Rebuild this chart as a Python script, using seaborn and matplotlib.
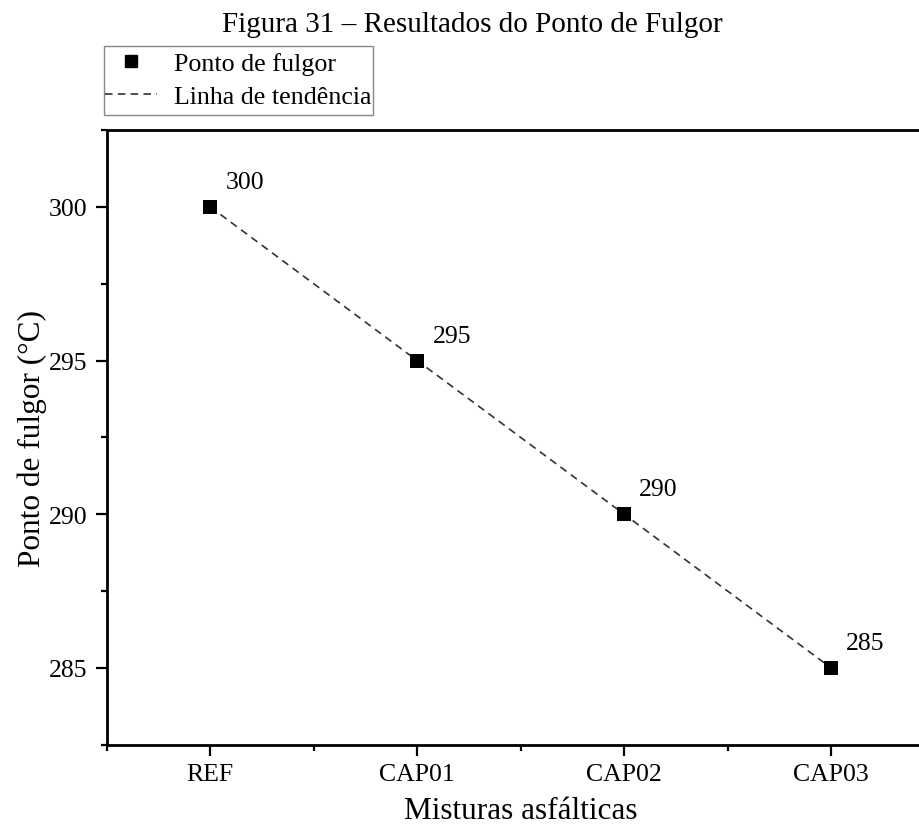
import numpy as np
import pandas as pd
import matplotlib
matplotlib.use("Agg")
import matplotlib.pyplot as plt
from matplotlib.ticker import FixedLocator, MultipleLocator
from matplotlib.lines import Line2D
from matplotlib.patches import Rectangle
import seaborn as sns

categories = ["REF", "CAP01", "CAP02", "CAP03"]
flash_point = [300, 295, 290, 285]
y_ticks = [285, 290, 295, 300]

title = "Figura 31 \u2013 Resultados do Ponto de Fulgor"
x_label = "Misturas asfálticas"
y_label = "Ponto de fulgor (°C)"
legend_labels = ["Ponto de fulgor", "Linha de tendência"]

sns.set_theme(style="ticks")
plt.rcParams["font.family"] = ["Liberation Serif", "DejaVu Serif"]
for k in ["text.color", "axes.labelcolor", "xtick.color", "ytick.color", "axes.edgecolor"]:
    plt.rcParams[k] = "black"

df = pd.DataFrame({"mix": categories, "fp": flash_point})

fig = plt.figure(figsize=(9.2, 8.28), dpi=100)
W, H = 920, 828
x0, x1 = 106.7, 934.5
y0, y1 = 131, 745.7
ax = fig.add_axes([x0 / W, 1 - y1 / H, (x1 - x0) / W, (y1 - y0) / H])

dash = (0, (4.5, 3.2))
sns.lineplot(data=df, x="mix", y="fp", ax=ax, color="#333333", linewidth=1.2,
             linestyle=dash, sort=False, zorder=2)
sns.scatterplot(data=df, x="mix", y="fp", ax=ax, marker="s", s=90, color="black",
                edgecolor="black", linewidth=0, zorder=3)

for i, v in enumerate(flash_point):
    ax.annotate(str(v), (i, v), xytext=(11, 10), textcoords="offset points",
                fontsize=18.5, ha="left", va="bottom", color="black")

ax.set_xlim(-0.5, 3.5)
ax.set_ylim(282.5, 302.5)
ax.set_yticks(y_ticks)
ax.yaxis.set_minor_locator(MultipleLocator(2.5))
ax.xaxis.set_minor_locator(FixedLocator([-0.5, 0.5, 1.5, 2.5, 3.5]))

for s in ax.spines.values():
    s.set_linewidth(2.0)
    s.set_color("black")
    s.set_visible(True)

ax.tick_params(axis="both", which="major", direction="out", length=8, width=1.6,
               labelsize=18.5, colors="black", pad=6)
ax.tick_params(axis="x", which="major", pad=5)
ax.tick_params(axis="both", which="minor", direction="out", length=4.5, width=1.6)
ax.tick_params(top=False, right=False, which="both")

ax.set_xlabel(x_label, fontsize=22.5, labelpad=8)
ax.set_ylabel(y_label, fontsize=22.5, labelpad=1)

fig.text(472 / W, 1 - 25 / H, title, ha="center", va="center", fontsize=21)

handles = [
    Line2D([], [], marker="s", color="black", linestyle="none", markersize=9),
    Line2D([], [], color="#333333", linestyle=dash, linewidth=1.2),
]
leg = fig.legend(handles, legend_labels, loc="upper left",
                 bbox_to_anchor=(104 / W, 1 - 52 / H), frameon=False,
                 fontsize=18.7, handlelength=2.0, handletextpad=0.65,
                 borderpad=0.05, labelspacing=0.35, borderaxespad=0)
fig.patches.append(Rectangle((104 / W, 1 - 116 / H), 269 / W, 69 / H,
                             transform=fig.transFigure, fill=False,
                             edgecolor="#888888", linewidth=1.0))

fig.savefig("out.png", dpi=100)
